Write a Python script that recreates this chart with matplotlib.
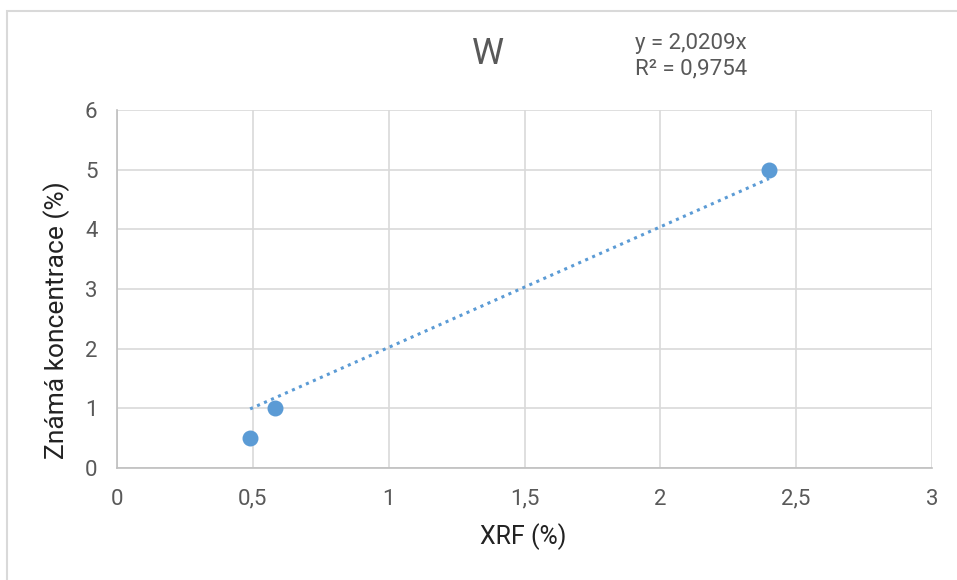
import numpy as np
import matplotlib.pyplot as plt
from matplotlib.patches import Rectangle
from matplotlib.ticker import FuncFormatter

plt.rcParams['font.family'] = ['Roboto', 'DejaVu Sans']

# data
xrf = [0.49, 0.58, 2.40]
known = [0.50, 1.00, 4.99]
slope = 2.0209
r2 = 0.9754
x_ticks = [0, 0.5, 1, 1.5, 2, 2.5, 3]
y_ticks = [0, 1, 2, 3, 4, 5, 6]

blue = '#5b9bd5'
grey = '#595959'

fig = plt.figure(figsize=(9.57, 5.80), dpi=100)
ax = fig.add_axes([117/957, 1-468/580, (932-117)/957, (468-110)/580])

# chart border
fig.patches.append(Rectangle((7/957, -0.1), 1.2, 1-11/580+0.1, transform=fig.transFigure,
                             fill=False, edgecolor='#d9d9d9', linewidth=1.5))

ax.scatter(xrf, known, s=110, color=blue, zorder=3)
xt = np.array([min(xrf), max(xrf)])
ax.plot(xt, slope*xt, linestyle=(0, (1, 1.5)), color=blue, linewidth=2.2, zorder=2)

ax.set_xlim(0, 3)
ax.set_ylim(0, 6)
ax.set_xticks(x_ticks)
ax.set_yticks(y_ticks)
fmt = FuncFormatter(lambda v, p: ('%g' % v).replace('.', ','))
ax.xaxis.set_major_formatter(fmt)
ax.yaxis.set_major_formatter(fmt)
ax.grid(True, color='#d9d9d9', linewidth=1.2)
ax.set_axisbelow(True)
for s in ['top', 'right']:
    ax.spines[s].set_visible(False)
for s in ['left', 'bottom']:
    ax.spines[s].set_color('#bfbfbf')
    ax.spines[s].set_linewidth(1.2)
ax.tick_params(length=0, labelsize=16, colors=grey)
ax.tick_params(axis='x', pad=15)
ax.tick_params(axis='y', pad=14)

# axis titles
fig.text(523/957, 1-537/580, 'XRF (%)', fontsize=18, color='#222222', ha='center', va='center')
fig.text(57/957, 1-320/580, 'Známá koncentrace (%)', fontsize=19, color='#222222',
         ha='center', va='center', rotation=90)

fig.text(488/957, 1-54/580, 'W', fontsize=26, color=grey, ha='center', va='center')
fig.text(635/957, 1-56/580, 'y = 2,0209x\nR² = 0,9754', fontsize=16, color=grey,
         ha='left', va='center', linespacing=1.25)

plt.savefig('out.png', dpi=100)
